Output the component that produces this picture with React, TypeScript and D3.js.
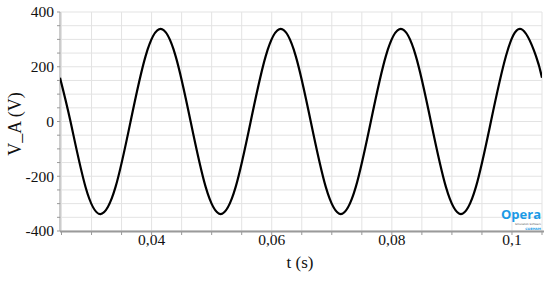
import React from "react";
import * as d3 from "d3";

// Time samples (s) and voltage readings (V)
const tValues = [
  0.02475, 0.0265, 0.029, 0.0315, 0.034, 0.0365, 0.039, 0.0415, 0.044, 0.0465,
  0.049, 0.0515, 0.054, 0.0565, 0.059, 0.0615, 0.064, 0.0665, 0.069, 0.0715,
  0.074, 0.0765, 0.079, 0.0815, 0.084, 0.0865, 0.089, 0.0915, 0.094, 0.0965,
  0.099, 0.1015, 0.104, 0.105,
];
const vValues = [
  160, 0, -239, -338, -239, 0, 239, 338, 239, 0,
  -239, -338, -239, 0, 239, 338, 239, 0, -239, -338,
  -239, 0, 239, 338, 239, 0, -239, -338, -239, 0,
  239, 338, 239, 160,
];

const xTickValues = [0.04, 0.06, 0.08, 0.1];
const xTickLabels = ["0,04", "0,06", "0,08", "0,1"];
const yTickValues = [-400, -200, 0, 200, 400];
const yTickLabels = ["-400", "-200", "0", "200", "400"];
const xTitle = "t (s)";
const yTitle = "V_A (V)";

const W = 550;
const H = 281;
const left = 60;
const right = 542;
const top = 12;
const bottom = 231;

export default function App() {
  const x = d3.scaleLinear().domain([0.02475, 0.105]).range([left, right]);
  const y = d3.scaleLinear().domain([-400, 400]).range([bottom, top]);

  const xMinor = d3.range(0.025, 0.10501, 0.005);
  const yMinor = d3.range(-400, 400.1, 50);

  const pts = tValues.map((t, i) => [t, vValues[i]] as [number, number]);
  const line = d3
    .line<[number, number]>()
    .x((d) => x(d[0]))
    .y((d) => y(d[1]))
    .curve(d3.curveNatural);

  const serif = "Liberation Serif, Times New Roman, serif";

  return (
    <svg
      width={W}
      height={H}
      style={{ position: "absolute", left: 0, top: 0, background: "#fff" }}
    >
      <defs>
        <clipPath id="plot">
          <rect x={left} y={top - 2} width={right - left} height={bottom - top + 4} />
        </clipPath>
      </defs>
      {/* grid */}
      {xMinor.map((t, i) => (
        <line key={"gx" + i} x1={x(t)} x2={x(t)} y1={top} y2={bottom} stroke="#e3e3e3" strokeWidth={1} />
      ))}
      {yMinor.map((v, i) => (
        <line key={"gy" + i} x1={left} x2={right} y1={y(v)} y2={y(v)} stroke="#e3e3e3" strokeWidth={1} />
      ))}
      {/* axes */}
      <line x1={left} x2={left} y1={top} y2={bottom} stroke="#999" strokeWidth={1} />
      <line x1={left} x2={right + 2} y1={bottom + 0.5} y2={bottom + 0.5} stroke="#9a9a9a" strokeWidth={2} />
      {yMinor.map((v, i) => (
        <line key={"ty" + i} x1={left - 3} x2={left} y1={y(v)} y2={y(v)} stroke="#999" strokeWidth={1} />
      ))}
      {xMinor.map((t, i) => (
        <line key={"tx" + i} x1={x(t)} x2={x(t)} y1={bottom + 1} y2={bottom + 4} stroke="#999" strokeWidth={1} />
      ))}
      {/* tick labels */}
      {yTickValues.map((v, i) => (
        <text
          key={"ly" + i}
          x={left - 6}
          y={y(v)}
          dy="0.35em"
          textAnchor="end"
          style={{ fontFamily: serif, fontSize: "15.5px" }}
          fill="#111"
        >
          {yTickLabels[i]}
        </text>
      ))}
      {xTickValues.map((t, i) => (
        <text
          key={"lx" + i}
          x={x(t)}
          y={245}
          textAnchor="middle"
          style={{ fontFamily: serif, fontSize: "15.5px" }}
          fill="#111"
        >
          {xTickLabels[i]}
        </text>
      ))}
      {/* titles */}
      <text x={300} y={268} textAnchor="middle" style={{ fontFamily: serif, fontSize: "17px" }} fill="#111">
        {xTitle}
      </text>
      <text
        transform={`translate(21,124) rotate(-90)`}
        textAnchor="middle"
        style={{ fontFamily: serif, fontSize: "18px" }}
        fill="#111"
      >
        {yTitle}
      </text>
      {/* curve */}
      <path d={line(pts) || ""} fill="none" stroke="#000" strokeWidth={2.2} clipPath="url(#plot)" />
      {/* logo */}
      <text x={541} y={219} textAnchor="end" style={{ fontFamily: "Open Sans, sans-serif", fontWeight: "bold", fontSize: "13px" }} fill="#1a9ae6">
        Opera
      </text>
      <text x={541} y={225} textAnchor="end" style={{ fontFamily: "DejaVu Sans, sans-serif", fontSize: "2.6px" }} fill="#555">
        Simulation Software
      </text>
      <text x={541} y={229.5} textAnchor="end" style={{ fontFamily: "DejaVu Sans, sans-serif", fontWeight: "bold", fontSize: "3.2px" }} fill="#1a9ae6">
        COBHAM
      </text>
    </svg>
  );
}
